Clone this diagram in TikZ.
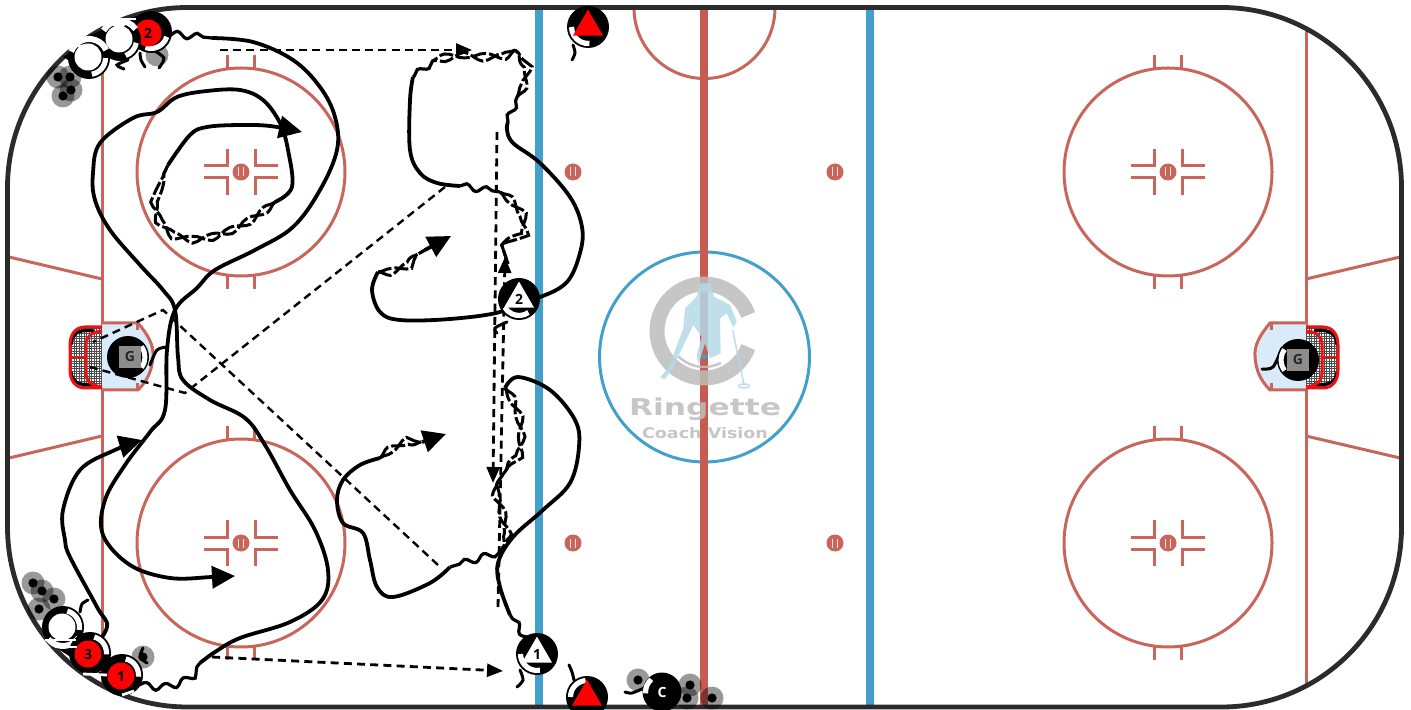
\documentclass[tikz,border=0pt]{standalone}
\usepackage{fontspec}
\setsansfont{Open Sans}
\newfontfamily\logofont{DejaVu Sans}
\usetikzlibrary{arrows.meta,backgrounds,decorations.pathmorphing,shapes.geometric}
\definecolor{markred}{HTML}{C9665C}
\definecolor{linered}{HTML}{C85A50}
\definecolor{lineblue}{HTML}{439FCB}
\definecolor{creaseblue}{HTML}{D9EAF8}
\definecolor{netred}{HTML}{EE1111}
\definecolor{rinkdark}{HTML}{2B2B2B}
\definecolor{logogray}{HTML}{BDBDBD}
\definecolor{logoblue}{HTML}{B4DAE8}
\newcommand{\bladearc}[3]{%
	\draw[white,line width=2.6pt] ([shift={(#2:16.5)}]#1.center) arc[start angle=#2,end angle=#3,radius=16.5];}
\begin{document}
\begin{tikzpicture}[
			x=0.5pt,y=-0.5pt,
			every node/.style={font=\sffamily\bfseries\fontsize{7}{8}\selectfont, inner sep=0pt},
			markline/.style={draw=markred, line width=1.5pt},
			passline/.style={line width=1.4pt, dash pattern=on 4pt off 2.6pt},
			passtip/.style={-{Triangle[length=8pt,width=6.5pt]}},
			skate/.style={line width=1.9pt, line join=round},
			skatetip/.style={-{Triangle[length=11.5pt,width=11pt]}},
			wavy/.style={line width=1.6pt, decorate, decoration={snake,amplitude=1.6pt,segment length=10pt}},
			chainpass/.style={
				preaction={draw, line width=1.5pt, dash pattern=on 7pt off 1.5pt, decorate, decoration={snake,amplitude=1.7pt,segment length=20pt}},
				postaction={draw, line width=1.5pt, dash pattern=on 7pt off 1.5pt, decorate, decoration={snake,mirror,amplitude=1.7pt,segment length=20pt}}},
			body/.style={circle, fill=black, minimum size=21pt},
			capred/.style={circle, fill=red, minimum size=13.5pt},
			capwhite/.style={circle, fill=white, minimum size=13.5pt},
			trimark/.style={regular polygon, regular polygon sides=3, minimum size=17.4pt},
			goalbox/.style={fill=black!45, minimum size=11pt, text=black!85},
			halo/.style={circle, fill=black, opacity=0.4, minimum size=11.5pt},
			puckdot/.style={circle, fill=black, minimum size=4.6pt},
			stick/.style={line width=1.5pt, line cap=round},
			]
			\useasboundingbox (0,0) rectangle (1411,710);
			
			\foreach \hx/\hy [count=\hn] in {58/77,70/77,71/90,63/96,33/583,42/591,54/599,39/609,143/657,638/680,690/685,687/698,712/698}{
				\node[halo] (halo\hn) at (\hx,\hy) {};
				\node[puckdot] (puck\hn) at (\hx,\hy) {};
			}
			\node[halo] (halotop) at (157,55) {};
			
			\fill (123,20) -- (150,12) -- (150,40) -- cycle;
			\fill (90,35) -- (118,24) -- (118,52) -- cycle;
			\fill (63,57) -- (88,42) -- (88,72) -- cycle;
			\fill (55,647) -- (88,640) -- (88,668) -- cycle;
			\fill (97,673) -- (121,664) -- (121,688) -- cycle;
			
			\draw[stick] plot[smooth] coordinates {(153,50) (164,58) (159,68)};
			\draw[stick] plot[smooth] coordinates {(140,53) (141,60) (145,67)};
			\draw[stick] plot[smooth] coordinates {(128,60) (117,65) (124,69)};
			\draw[stick] plot[smooth] coordinates {(143,648) (140,657) (147,663)};
			\draw[stick] plot[smooth] coordinates {(80,612) (82,604) (88,600)};
			\draw[stick] plot[smooth] coordinates {(507,322) (495,328) (497,333)};
			\draw[stick] plot[smooth] coordinates {(520,670) (523,680) (517,687)};
			\draw[stick] plot[smooth] coordinates {(573,45) (575,53) (572,60)};
			\draw[stick] plot[smooth] coordinates {(574,680) (572,672) (569,665)};
			\draw[stick] plot[smooth] coordinates {(625,692) (632,693) (644,688)};
			\draw[stick] plot[smooth] coordinates {(150,365) (157,350) (167,347)};
			\draw[stick] plot[smooth] coordinates {(1262,369) (1273,367) (1282,348)};
			
			\node[body] (bodyredtwo) at (151,32) {};
			\bladearc{bodyredtwo}{17}{110}
			\node[capred] (capredtwo) at (148,33) {2};
			\node[body] (bodywhiteb) at (120,40) {};
			\bladearc{bodywhiteb}{10}{70}
			\draw[white,line width=3pt] ([shift={(-150:19)}]bodywhiteb.center) arc[start angle=-150,end angle=-35,radius=19];
			\node[capwhite] (capwhiteb) at (119,39) {};
			\node[body] (bodywhitea) at (89,58) {};
			\bladearc{bodywhitea}{0}{80}
			\draw[white,line width=3pt] ([shift={(-160:19)}]bodywhitea.center) arc[start angle=-160,end angle=-25,radius=19];
			\node[capwhite] (capwhitea) at (88,57) {};
			\node[body] (bodywhitec) at (63,627) {};
			\bladearc{bodywhitec}{-75}{10}
			\draw[white,line width=3pt] ([shift={(35:19)}]bodywhitec.center) arc[start angle=35,end angle=140,radius=19];
			\node[capwhite] (capwhitec) at (62,627) {};
			\node[body] (bodyredthree) at (90,653) {};
			\bladearc{bodyredthree}{-75}{5}
			\node[capred] (capredthree) at (88,654) {3};
			\node[body] (bodyredone) at (122,675) {};
			\bladearc{bodyredone}{-77}{6}
			\node[capred] (capredone) at (121,676) {1};
			\draw[white,line width=1pt] (113,19) -- (136,19);
			\draw[white,line width=1pt] (103,25) -- (125,25);
			\draw[white,line width=1pt] (68,47) -- (90,45);
			\draw[white,line width=1.4pt] (45,640) -- (76,640);
			\draw[white,line width=1.4pt] (55,647) -- (77,647);
			\draw[white,line width=1.4pt] (83,674) -- (107,675);
			\draw[white,line width=1.4pt] (122,695) -- (134,691);
			
			\node[body] (bodytritwo) at (519,299) {};
			\bladearc{bodytritwo}{55}{150}
			\node[trimark,fill=white] (tritwo) at (519,299) {2};
			\node[body] (bodytrione) at (537,654) {};
			\bladearc{bodytrione}{80}{180}
			\node[trimark,fill=white] (trione) at (537,654) {1};
			\node[body] (bodyflagtop) at (588,27) {};
			\bladearc{bodyflagtop}{85}{180}
			\node[trimark,fill=red] (flagtop) at (588,27) {};
			\node[body] (bodyflagbottom) at (587,697) {};
			\bladearc{bodyflagbottom}{-95}{-180}
			\node[trimark,fill=red] (flagbottom) at (587,697) {};
			\node[body,minimum size=19.5pt,text=white] (coach) at (662,692) {C};
			\bladearc{coach}{-130}{-185}
			
			\node[body] (goalieleft) at (128,357) {};
			\draw[white,line width=2.5pt] ([shift={(-38:17)}]goalieleft.center) arc[start angle=-38,end angle=38,radius=17];
			\node[goalbox] (boxleft) at (130,357) {G};
			\node[body] (goalieright) at (1298,360) {};
			\draw[white,line width=2.5pt] ([shift={(142:17)}]goalieright.center) arc[start angle=142,end angle=218,radius=17];
			\node[goalbox] (boxright) at (1298,360) {G};
			
			\begin{scope}[on background layer]
				\fill[white] (0,0) rectangle (1411,710);
				
				\draw[markline] (9,257) -- (102,279);
				\draw[markline] (9,458) -- (102,436);
				\draw[markline] (1400,257) -- (1306,279);
				\draw[markline] (1400,458) -- (1306,436);
				\draw[markline] (102,29) -- (102,685);
				\draw[markline] (1306,29) -- (1306,685);
				
				\foreach \fx/\fy in {241/172,241/543,1168/172,1168/543}{
					\begin{scope}[shift={(\fx,\fy)}]
						\draw[markline] (0,0) circle[radius=104];
						\foreach \sx in {-1,1}{
							\draw[markline] (13.5*\sx,-104) -- (13.5*\sx,-117);
							\draw[markline] (13.5*\sx,104) -- (13.5*\sx,117);
							\draw[markline] (37*\sx,-6) -- (14*\sx,-6) -- (14*\sx,-23);
							\draw[markline] (37*\sx,6) -- (14*\sx,6) -- (14*\sx,23);
						}
					\end{scope}
				}
				\foreach \dx/\dy in {241/172,241/543,1168/172,1168/543,573/172,835/172,573/543,835/543}{
					\fill[markred] (\dx,\dy) circle[radius=8.5];
					\draw[white!80!markred,line width=0.6pt] (\dx-2.5,\dy-4.5) -- (\dx-2.5,\dy+4.5);
					\draw[white!80!markred,line width=0.6pt] (\dx+2.5,\dy-4.5) -- (\dx+2.5,\dy+4.5);
				}
				
				\foreach \gx/\gs in {102/1,1306/-1}{
					\begin{scope}[shift={(\gx,0)},xscale=\gs]
						\draw[markline,fill=creaseblue] (0,323) -- (36,323) .. controls (46,335) and (52,345) .. (51,357) .. controls (50,370) and (46,380) .. (36,390) -- (0,390);
						\draw[markline] (35,323) -- (35,330);
						\draw[markline] (35,390) -- (35,383);
						\begin{scope}
							\clip (0,327) -- (-17,327) .. controls (-27,327) and (-32,335) .. (-32,345) -- (-32,370) .. controls (-32,380) and (-27,388) .. (-17,388) -- (0,388) -- cycle;
							\fill[white] (-34,325) rectangle (0,390);
							\foreach \mx in {-33,-30.5,...,0}{
								\draw[black!70,line width=0.4pt] (\mx,325) -- (\mx,390);
							}
							\foreach \my in {326,328.5,...,390}{
								\draw[black!70,line width=0.4pt] (-34,\my) -- (0,\my);
							}
							\draw[black,line width=1.6pt] (-31,345) .. controls (-30,332) and (-22,329) .. (-8,331);
							\draw[black,line width=1.6pt] (-31,372) .. controls (-30,383) and (-22,386) .. (-8,384);
						\end{scope}
						\draw[netred,line width=1.5pt] (0,327) -- (-17,327) .. controls (-27,327) and (-32,335) .. (-32,345) -- (-32,370) .. controls (-32,380) and (-27,388) .. (-17,388) -- (0,388);
						\draw[netred,line width=1.5pt] (0,331) .. controls (-10,332) and (-16,336) .. (-16,345) -- (-16,372) .. controls (-16,382) and (-10,386) .. (0,387);
						\draw[netred,line width=1pt] (-32,357) -- (-16,357);
					\end{scope}
				}
				
				\draw[markline] (634,8) arc[start angle=180,end angle=0,radius=70.5];
				\draw[draw=lineblue,line width=1.5pt] (704.5,357) circle[radius=105];
				\draw[draw=lineblue,line width=4.2pt] (539,8) -- (539,706);
				\draw[draw=lineblue,line width=4.2pt] (870,8) -- (870,706);
				\draw[draw=linered,line width=4.2pt] (704,8) -- (704,706);
				\draw[draw=rinkdark,line width=2.4pt,rounded corners=90pt] (7.5,7.5) rectangle (1401.5,707);
				
				\begin{scope}[opacity=0.85]
					\draw[draw=logogray,line width=7.5pt] ([shift={(-20:47)}]704,331) arc[start angle=-20,end angle=-340,radius=47];
					\draw[draw=logogray,line width=1.2pt] ([shift={(62:36)}]704,331) arc[start angle=62,end angle=135,radius=36];
					\begin{scope}[shift={(590,240)},scale=0.3333]
						\fill[logoblue] (330,130) -- (360,130) -- (372,170) -- (420,195) -- (440,245) -- (430,262) -- (410,220) -- (390,235) -- (392,340) -- (360,355) -- (345,310) -- (325,375) -- (320,345) -- (335,290) -- (310,255) -- (245,390) -- (225,418) -- (210,412) -- (235,385) -- (280,265) -- (285,205) -- (320,170) -- cycle;
						\draw[draw=logoblue,line width=0.8pt] (428,270) -- (462,435);
						\draw[draw=logoblue,line width=0.8pt] (462,438) ellipse (16 and 6);
						\fill[lineblue] (343,350) circle[radius=9];
					\end{scope}
					\node[font=\logofont\bfseries\fontsize{11.6}{12}\selectfont,text=logogray,xscale=1.35,transform shape] (logoword) at (705,409) {Ringette};
					\node[font=\logofont\bfseries\fontsize{7.3}{8}\selectfont,text=logogray,xscale=1.2,transform shape] (logosub) at (705,433) {Coach Vision};
				\end{scope}
				
				\coordinate (passatop) at (220,50);
				\coordinate (passaend) at (472,50);
				\coordinate (passbstart) at (438,565);
				\coordinate (passbturn) at (163,310);
				\coordinate (passbend) at (93,342);
				\coordinate (passcstart) at (445,187);
				\coordinate (passcturn) at (185,393);
				\coordinate (passcend) at (90,367);
				\coordinate (passdstart) at (212,657);
				\coordinate (passdend) at (503,671);
				\coordinate (passestart) at (497,132);
				\coordinate (passeend) at (493,483);
				\coordinate (passfstart) at (498,607);
				\coordinate (passfend) at (505,257);
				\draw[passline,passtip] (passatop) -- (passaend);
				\draw[passline,line width=1.2pt] (passbstart) -- (passbturn) -- (passbend);
				\draw[passline,line width=1.2pt] (passcstart) -- (passcturn) -- (passcend);
				\draw[passline,passtip] (passdstart) -- (passdend);
				\draw[passline,passtip] (passestart) -- (passeend);
				\draw[passline,passtip] (passfstart) -- (passfend);
				
				\coordinate (waveredtwo) at (212,38);
				\coordinate (tipredtwo) at (235,576);
				\draw[wavy] (bodyredtwo.center) -- (waveredtwo);
				\draw[skate,skatetip] plot[smooth,tension=0.6] coordinates {(waveredtwo) (253,42) (293,60) (320,87) (335,117) (337,150) (320,190) (293,227) (255,250) (215,270) (197,288) (175,310) (167,350) (165,410) (150,432) (125,465) (105,500) (103,535) (130,565) (170,578) (212,577) (tipredtwo)};
				
				\coordinate (waveredone) at (200,663);
				\coordinate (chainredone) at (275,202);
				\coordinate (backredone) at (168,165);
				\coordinate (tipredone) at (302,132);
				\draw[wavy] (bodyredone.center) .. controls (150,692) and (180,685) .. (waveredone);
				\draw[skate] plot[smooth,tension=0.6] coordinates {(waveredone) (215,652) (240,638) (290,622) (322,600) (328,570) (315,530) (290,490) (265,445) (245,418) (210,400) (183,380) (178,357) (175,310) (163,290) (140,265) (110,230) (95,200) (93,173) (100,143) (133,118) (157,112) (177,97) (207,91) (240,90) (263,100) (280,123) (288,150) (292,187) (chainredone)};
				\path[chainpass] (chainredone) .. controls (247,225) and (200,245) .. (175,225) .. controls (160,212) and (158,190) .. (backredone);
				\draw[skate,skatetip] plot[smooth,tension=0.6] coordinates {(backredone) (190,135) (207,127) (240,125) (270,126) (tipredone)};
				
				\coordinate (tipredthree) at (142,440);
				\draw[skate,skatetip] plot[smooth,tension=0.6] coordinates {(bodyredthree.center) (107,627) (97,607) (70,557) (65,540) (63,510) (80,470) (115,450) (tipredthree)};
				
				\coordinate (chaintritwo) at (378,272);
				\coordinate (lasttritwo) at (425,250);
				\coordinate (tiptritwo) at (451,236);
				\draw[skate] plot[smooth,tension=0.6] coordinates {(bodytritwo.center) (500,312) (450,319) (400,320) (380,312) (372,290) (chaintritwo)};
				\path[chainpass] (chaintritwo) .. controls (395,272) and (410,258) .. (lasttritwo);
				\draw[skate,skatetip] (lasttritwo) -- (tiptritwo);
				
				\coordinate (wavecurla) at (508,122);
				\coordinate (chaincurla) at (517,97);
				\coordinate (chaincurlb) at (515,50);
				\coordinate (wavecurlb) at (432,62);
				\coordinate (solidcurlb) at (413,77);
				\coordinate (wavecurlc) at (460,186);
				\coordinate (chaincurlc) at (500,192);
				\coordinate (endcurlc) at (508,264);
				\draw[skate] plot[smooth,tension=0.6] coordinates {(bodytritwo.center) (540,297) (567,282) (580,253) (582,227) (570,197) (540,163) (513,143) (507,130) (wavecurla)};
				\draw[wavy] (wavecurla) -- (chaincurla);
				\path[chainpass] (chaincurla) .. controls (525,85) and (525,65) .. (chaincurlb);
				\path[chainpass] (chaincurlb) .. controls (495,62) and (480,38) .. (wavecurlb);
				\draw[wavy] (wavecurlb) -- (solidcurlb);
				\draw[skate] plot[smooth,tension=0.6] coordinates {(solidcurlb) (410,100) (410,150) (420,173) (437,183) (wavecurlc)};
				\draw[wavy] (wavecurlc) -- (chaincurlc);
				\path[chainpass] (chaincurlc) .. controls (525,210) and (520,235) .. (505,240) .. controls (505,248) and (507,255) .. (endcurlc);
				
				\coordinate (wavetrione) at (510,615);
				\coordinate (chaintrione) at (505,388);
				\coordinate (chainmiddle) at (497,483);
				\coordinate (wavelower) at (500,552);
				\coordinate (solidlower) at (450,567);
				\coordinate (chainlower) at (380,458);
				\coordinate (lastlower) at (422,442);
				\coordinate (tiplower) at (446,434);
				\draw[wavy] (bodytrione.center) -- (wavetrione);
				\draw[skate] plot[smooth,tension=0.6] coordinates {(wavetrione) (500,587) (498,563) (513,537) (543,510) (570,483) (579,447) (575,420) (550,390) (518,377) (chaintrione)};
				\path[chainpass] (chaintrione) .. controls (520,410) and (522,450) .. (chainmiddle);
				\path[chainpass] (chainmiddle) .. controls (495,505) and (520,510) .. (wavelower);
				\draw[wavy] (wavelower) -- (solidlower);
				\draw[skate] plot[smooth,tension=0.6] coordinates {(solidlower) (430,583) (393,597) (377,587) (370,560) (363,533) (343,523) (337,500) (343,480) (360,465) (chainlower)};
				\path[chainpass] (chainlower) .. controls (392,448) and (405,445) .. (lastlower);
				\draw[skate,skatetip] (lastlower) -- (tiplower);
			\end{scope}
		\end{tikzpicture}
\end{document}
